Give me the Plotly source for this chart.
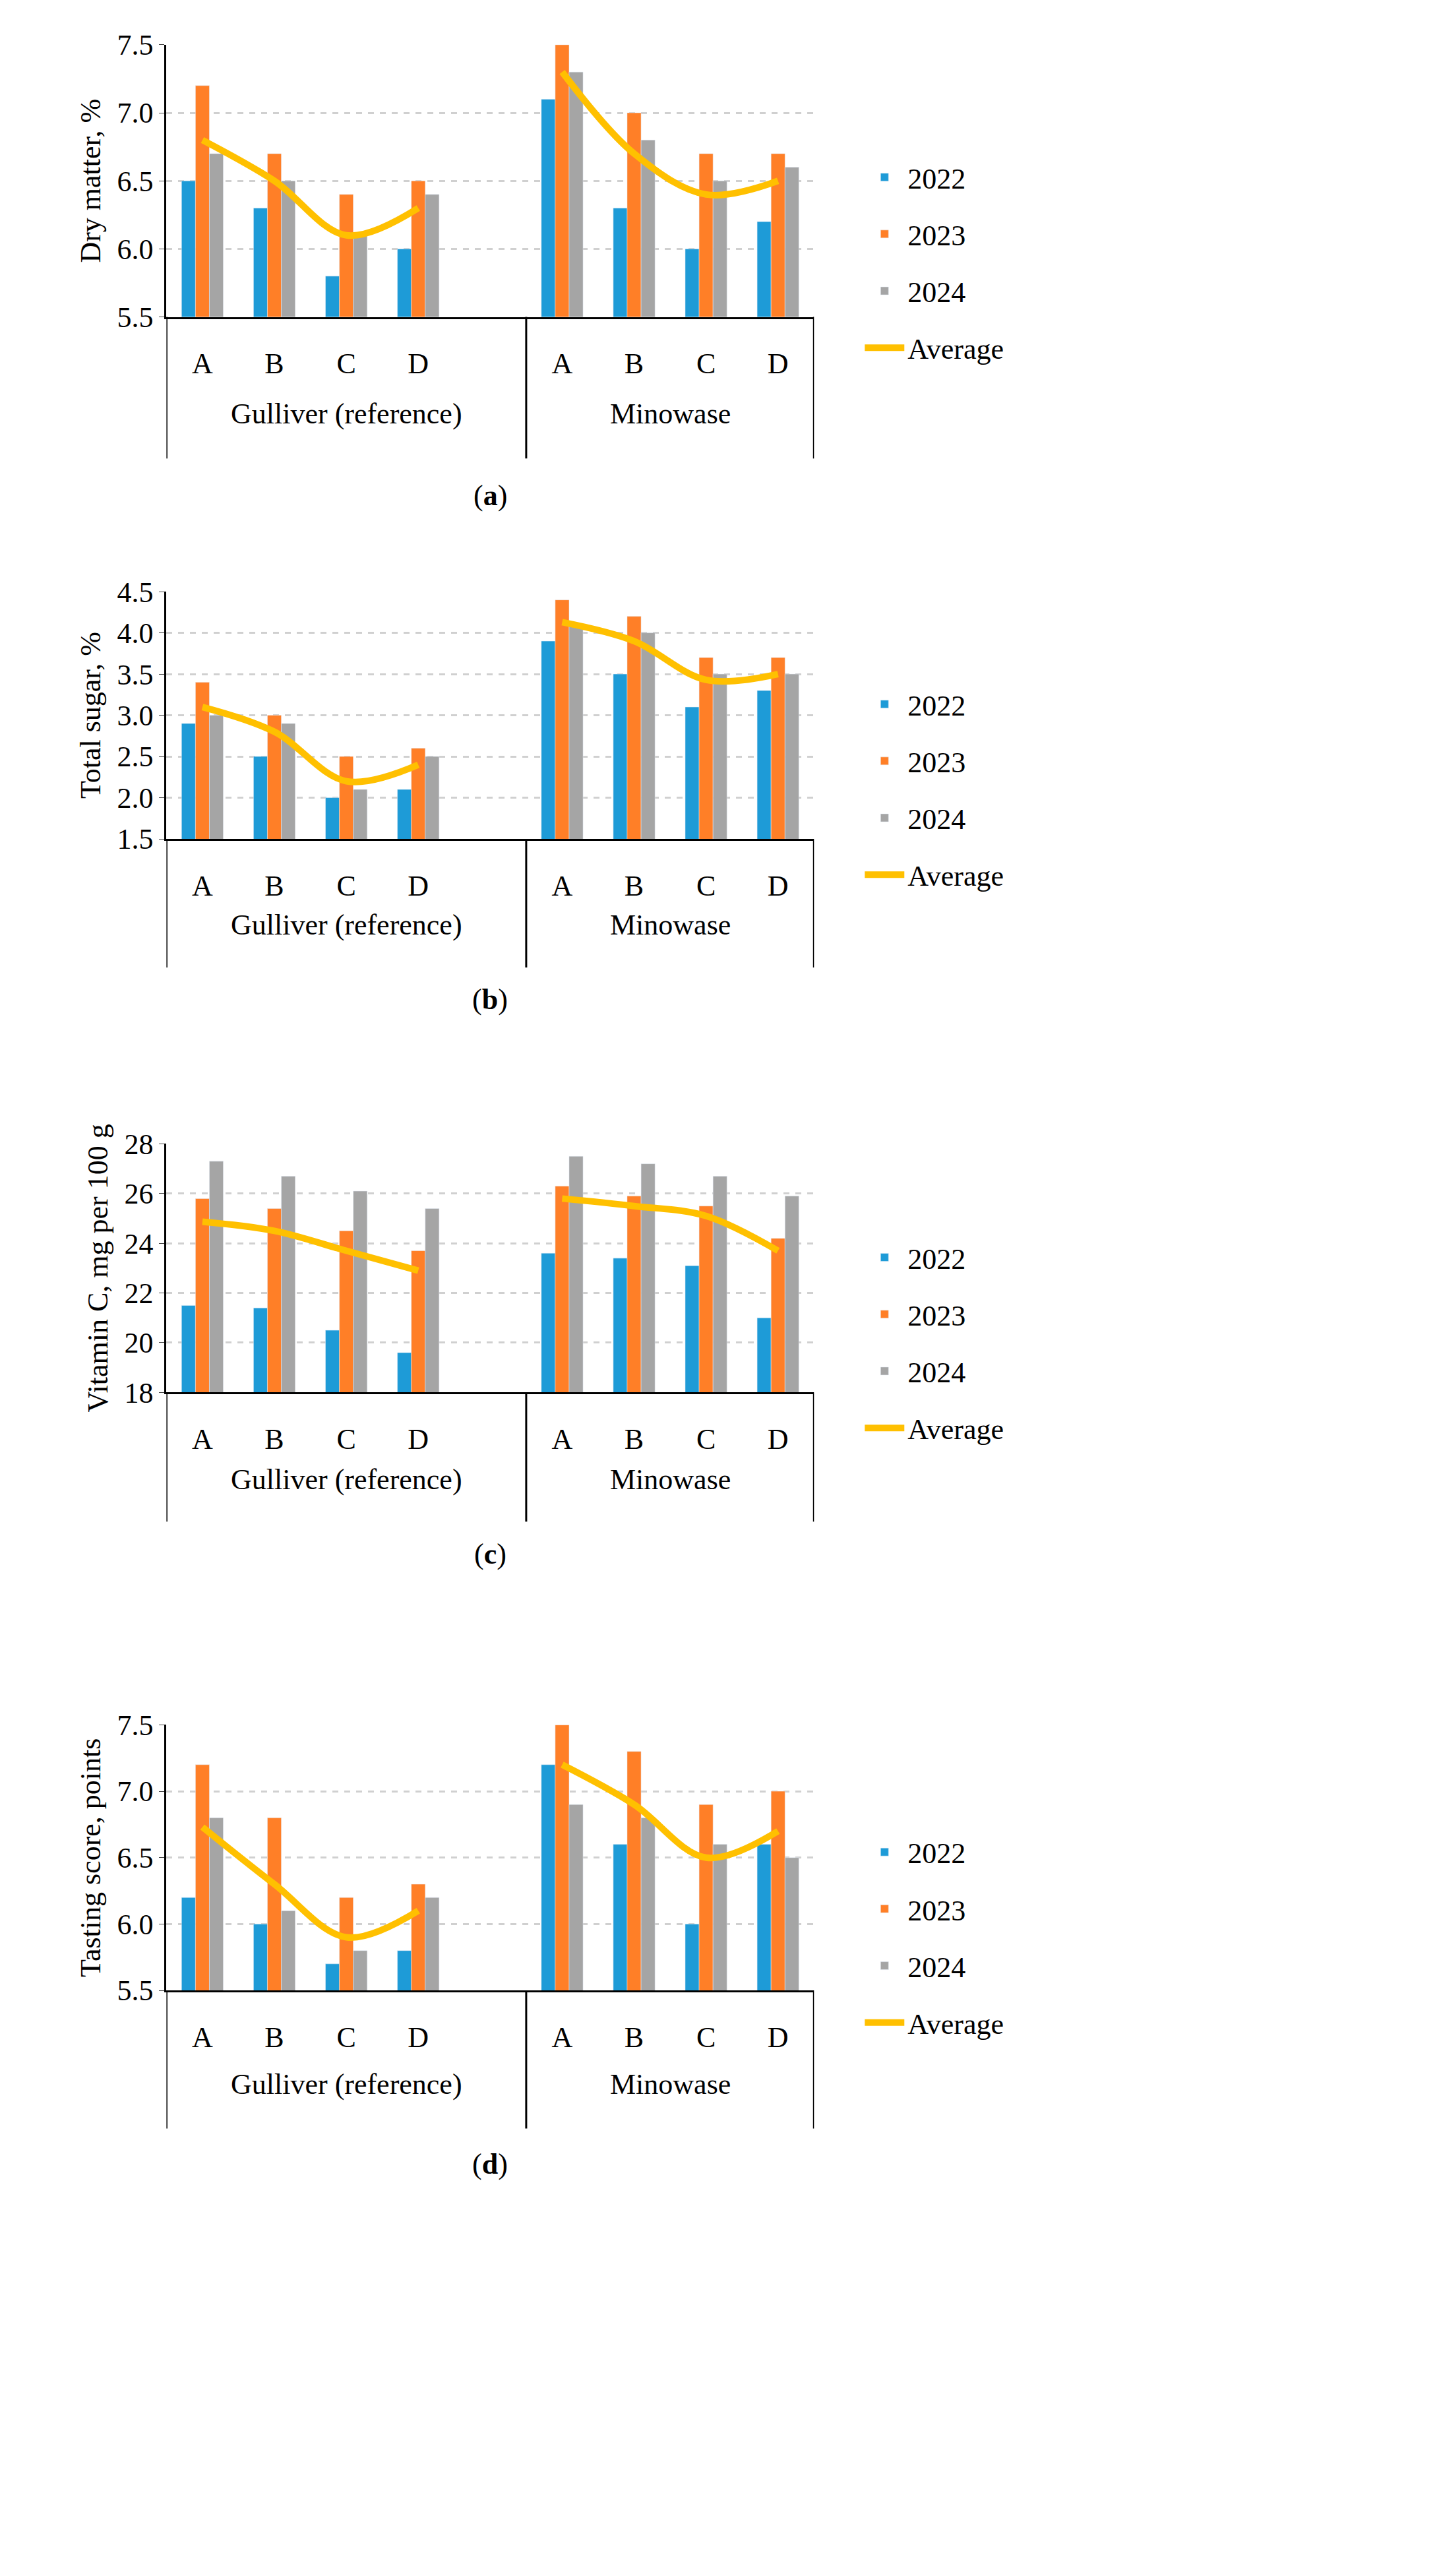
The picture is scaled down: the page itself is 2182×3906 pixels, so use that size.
import plotly.graph_objects as go

FONT = 'Liberation Serif'
COLORS = {'2022': '#1E9BD7', '2023': '#FF7F27', '2024': '#A5A5A5', 'Average': '#FFC000'}
X_POS = [0, 1, 2, 3, 5, 6, 7, 8]


def get_panels():
    return [
        dict(label='a', title='Dry matter, %', yrange=[5.5, 7.5], dtick=0.5, fmt='.1f',
             domain=[0.8837, 0.9907],
             data={'2022': [6.5, 6.3, 5.8, 6.0, 7.1, 6.3, 6.0, 6.2],
                   '2023': [7.2, 6.7, 6.4, 6.5, 7.5, 7.0, 6.7, 6.7],
                   '2024': [6.7, 6.5, 6.1, 6.4, 7.3, 6.8, 6.5, 6.6]}),
        dict(label='b', title='Total sugar, %', yrange=[1.5, 4.5], dtick=0.5, fmt='.1f',
             domain=[0.6785, 0.7757],
             data={'2022': [2.9, 2.5, 2.0, 2.1, 3.9, 3.5, 3.1, 3.3],
                   '2023': [3.4, 3.0, 2.5, 2.6, 4.4, 4.2, 3.7, 3.7],
                   '2024': [3.0, 2.9, 2.1, 2.5, 4.1, 4.0, 3.5, 3.5]}),
        dict(label='c', title='Vitamin C, mg per 100 g', yrange=[18, 28], dtick=2, fmt='d',
             domain=[0.4609, 0.5586],
             data={'2022': [21.5, 21.4, 20.5, 19.6, 23.6, 23.4, 23.1, 21.0],
                   '2023': [25.8, 25.4, 24.5, 23.7, 26.3, 25.9, 25.5, 24.2],
                   '2024': [27.3, 26.7, 26.1, 25.4, 27.5, 27.2, 26.7, 25.9]}),
        dict(label='d', title='Tasting score, points', yrange=[5.5, 7.5], dtick=0.5, fmt='.1f',
             domain=[0.2258, 0.3302],
             data={'2022': [6.2, 6.0, 5.7, 5.8, 7.2, 6.6, 6.0, 6.6],
                   '2023': [7.2, 6.8, 6.2, 6.3, 7.5, 7.3, 6.9, 7.0],
                   '2024': [6.8, 6.1, 5.8, 6.2, 6.9, 6.8, 6.6, 6.5]}),
    ]


def plot_graph():
    fig = go.Figure()
    layout = dict(
        width=2182, height=3906,
        margin=dict(l=0, r=0, t=0, b=0),
        plot_bgcolor='white', paper_bgcolor='white',
        font=dict(family=FONT, size=42, color='black'),
        barmode='group', bargap=0.42, bargroupgap=0,
        showlegend=True,
    )
    shapes = []
    annotations = []
    for i, panel in enumerate(get_panels()):
        n = '' if i == 0 else str(i + 1)
        xa, ya, lg = 'x' + n, 'y' + n, 'legend' + n
        for year, values in panel['data'].items():
            fig.add_trace(go.Bar(x=X_POS, y=values, name=year, marker_color=COLORS[year],
                                 xaxis=xa, yaxis=ya, legend=lg, legendgroup=year))
        average = [round(sum(v) / 3, 2) for v in zip(*panel['data'].values())]
        for k, part in enumerate([slice(0, 4), slice(4, 8)]):
            fig.add_trace(go.Scatter(x=X_POS[part], y=average[part], mode='lines', name='Average',
                                     line=dict(color=COLORS['Average'], width=10, shape='spline'),
                                     showlegend=(k == 0), xaxis=xa, yaxis=ya, legend=lg,
                                     legendgroup='Average'))
        layout['xaxis' + n] = dict(domain=[0.112, 0.562], range=[-0.5, 8.5], anchor=ya,
                                   tickvals=X_POS, ticktext=['A', 'B', 'C', 'D'] * 2,
                                   ticks='', showgrid=False, showline=True, linecolor='black',
                                   linewidth=3, zeroline=False, ticklabelstandoff=30,
                                   tickfont=dict(size=44))
        layout['yaxis' + n] = dict(domain=panel['domain'], range=panel['yrange'], dtick=panel['dtick'],
                                   tickformat=panel['fmt'], anchor=xa, showline=True,
                                   linecolor='black', linewidth=3, ticks='outside', ticklen=8,
                                   gridcolor='#D0D0D0', griddash='dash', gridwidth=3,
                                   zeroline=False, tickfont=dict(size=44),
                                   title=dict(text=panel['title'], standoff=12, font=dict(size=44)))
        layout[lg] = dict(x=0.595, y=panel['domain'][0] + 0.2 * (panel['domain'][1] - panel['domain'][0]),
                          yanchor='middle', xanchor='left', traceorder='grouped',
                          tracegroupgap=26, font=dict(size=44), bgcolor='rgba(0,0,0,0)',
                          itemwidth=60)
        for xv in [-0.5, 4.5, 8.5]:
            shapes.append(dict(type='line', xref=xa, yref=ya + ' domain', x0=xv, x1=xv, y0=0, y1=-0.52,
                               line=dict(color='black', width=3)))
        annotations.append(dict(x=2, y=-0.42, xref=xa, yref=ya + ' domain', text='Gulliver (reference)',
                                showarrow=False, font=dict(size=44)))
        annotations.append(dict(x=6.5, y=-0.42, xref=xa, yref=ya + ' domain', text='Minowase',
                                showarrow=False, font=dict(size=44)))
        annotations.append(dict(x=0.337, y=-0.72, xref='paper', yref=ya + ' domain',
                                text='(<b>' + panel['label'] + '</b>)', showarrow=False,
                                font=dict(size=44)))
    layout['shapes'] = shapes
    layout['annotations'] = annotations
    fig.update_layout(**layout)
    fig.write_html('out.html')


def main():
    plot_graph()


if __name__ == '__main__':
    main()
